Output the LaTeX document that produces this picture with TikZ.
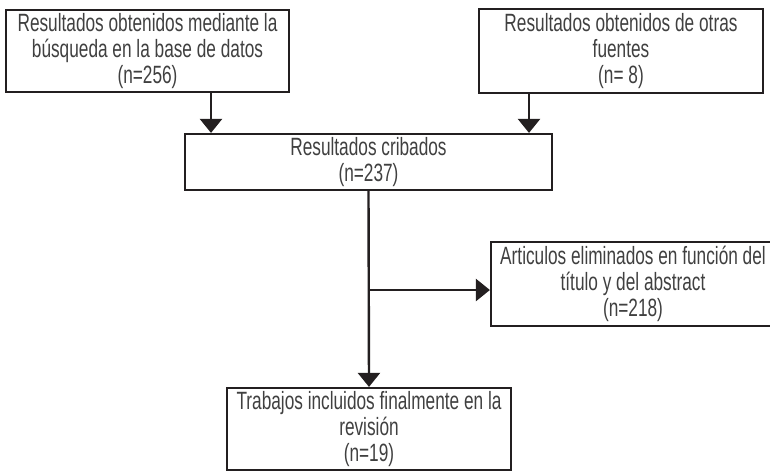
\documentclass[tikz,border=0pt]{standalone}
\usepackage{fontspec}
\setmainfont{Liberation Sans}[FakeStretch=0.69]
\usepackage{tikz}
\usetikzlibrary{arrows.meta}

\definecolor{borde}{HTML}{231F20}
\definecolor{texto}{HTML}{404040}

\tikzset{
	caja/.style={draw=borde, line width=1.1pt, align=center, inner sep=0pt,
		text=texto, font=\fontsize{12.5}{13}\selectfont},
	flecha/.style={draw=borde, line width=1.2pt, -{Triangle[width=11pt,length=7pt]}}
}

\begin{document}
\begin{tikzpicture}[x=0.5pt, y=-0.5pt]
		\useasboundingbox (0,0) rectangle (770,472);
		\clip (0,0) rectangle (770,472);

		\node[caja, minimum width=141.5pt, minimum height=41pt] (busqueda) at (147.5,51) {
			Resultados obtenidos mediante la
			\\
			búsqueda en la base de datos
			\\
			(n=256)
		};

		\node[caja, minimum width=142pt, minimum height=42pt] (otras) at (621,51) {
			Resultados obtenidos de otras
			\\
			fuentes
			\\
			(n= 8)
		};

		\node[caja, minimum width=183.5pt, minimum height=28pt] (cribados) at (368.5,162) {
			Resultados cribados
			\\
			(n=237)
		};

		\node[caja, minimum width=142pt, minimum height=42pt] (eliminados) at (633,284) {
			Articulos eliminados en función del
			\\
			título y del abstract
			\\
			(n=218)
		};

		\node[caja, minimum width=142pt, minimum height=41pt] (incluidos) at (369,429) {
			Trabajos incluidos finalmente en la
			\\
			revisión
			\\
			(n=19)
		};

		\coordinate (b1) at ([xshift=31.75pt]busqueda.south);
		\coordinate (b2) at ([xshift=-46pt]otras.south);
		\coordinate (rama) at ([yshift=-3pt]eliminados.west);

		\draw[flecha] (b1) -- (b1 |- cribados.north);
		\draw[flecha] (b2) -- (b2 |- cribados.north);

		\draw[flecha] (cribados.south) -- (incluidos.north);
		\draw[flecha] (cribados.south |- rama) -- (rama);

	\end{tikzpicture}
\end{document}
